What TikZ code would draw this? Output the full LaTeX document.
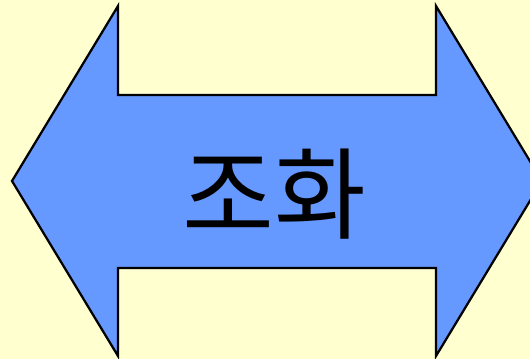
\documentclass[tikz,border=0pt]{standalone}
\usepackage{fontspec}
\newfontfamily\krfont{Noto Sans CJK KR}
\usepackage{tikz}
\definecolor{paper}{RGB}{255,255,208}
\definecolor{arrowblue}{RGB}{102,153,255}

\begin{document}
\begin{tikzpicture}[x=0.025cm, y=-0.025cm, every node/.style={font=\krfont}]
\useasboundingbox (0,0) rectangle (530,359);
\fill[paper] (0,0) rectangle (530,359);
\clip (0,0) rectangle (530,359);
\draw[fill=arrowblue, line width=1.6pt, line join=miter]
  (12,181) -- (118,6) -- (118,95) -- (436,95) -- (436,6) -- (542,181)
  -- (436,356) -- (436,268) -- (118,268) -- (118,356) -- cycle;
\node[font=\krfont\fontsize{71}{71}\selectfont] (word) at (274,194) {조화};
\end{tikzpicture}
\end{document}
